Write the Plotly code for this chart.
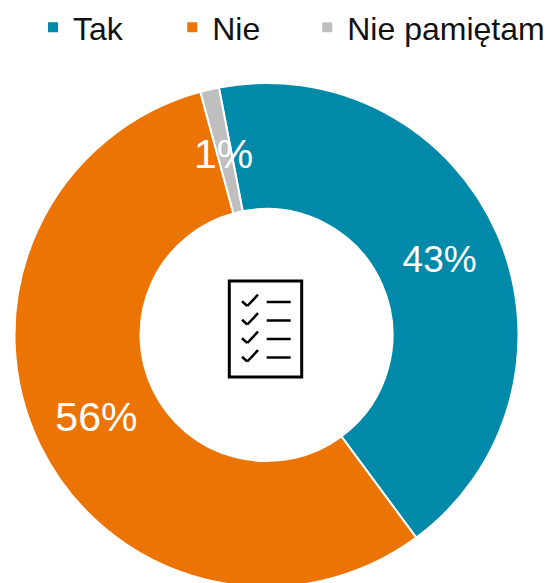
import plotly.graph_objects as go

labels = ["Tak", "Nie", "Nie pamiętam"]
legend_pad = ["\u00a0" * 5, "\u00a0" * 4 + "\u2009", ""]
values = [42.9, 55.9, 1.2]
texts = ["43%", "56%", "1%"]
text_sizes = [37, 41, 41]
colors = ["#0089A8", "#EC7405", "#BFBFBF"]

W, H = 550, 587
FONT = "Liberation Sans, Arial, sans-serif"
px = lambda x: x / W
py = lambda y: 1 - y / H

fig = go.Figure(go.Pie(
    labels=[l + p for l, p in zip(labels, legend_pad)], values=values,
    text=texts[:2] + [""], textinfo="text",
    textposition="inside", insidetextorientation="horizontal",
    textfont=dict(size=text_sizes, color="white", family=FONT),
    hole=0.5, sort=False, direction="clockwise", rotation=-10.9,
    marker=dict(colors=colors, line=dict(color="white", width=2)),
    domain=dict(x=[14.5 / W, 518.5 / W], y=[0, 504 / H]),
))

shapes = [dict(type="rect", xref="paper", yref="paper",
               x0=px(229.3), x1=px(301.7), y0=py(281), y1=py(377),
               line=dict(color="black", width=3), fillcolor="white")]
for i in range(4):
    dy = 18.5 * i
    shapes.append(dict(type="line", xref="paper", yref="paper",
                       x0=px(266.7), x1=px(290.7), y0=py(302 + dy), y1=py(302 + dy),
                       line=dict(color="black", width=2.5)))
    for a, b, c, d in [(242, 301.3, 247.3, 306), (247.3, 306, 258, 294.7)]:
        shapes.append(dict(type="line", xref="paper", yref="paper",
                           x0=px(a), x1=px(c), y0=py(b + dy), y1=py(d + dy),
                           line=dict(color="black", width=2.5)))

fig.update_layout(
    width=W, height=H, margin=dict(l=0, r=0, t=0, b=0),
    paper_bgcolor="white", plot_bgcolor="white",
    uniformtext=dict(minsize=30, mode="show"),
    shapes=shapes,
    annotations=[dict(text=texts[2], xref="paper", yref="paper", x=px(223.5), y=py(154),
                      xanchor="center", yanchor="middle", showarrow=False,
                      font=dict(size=text_sizes[2], color="white", family=FONT))],
    legend=dict(orientation="h", x=41 / W, xanchor="left", y=1, yanchor="top",
                font=dict(size=32, color="#111111", family=FONT),
                traceorder="normal"),
    showlegend=True,
)
fig.write_html("out.html", config=dict(displayModeBar=False),
               post_script="document.body.style.margin='0';document.body.style.overflow='hidden';")
